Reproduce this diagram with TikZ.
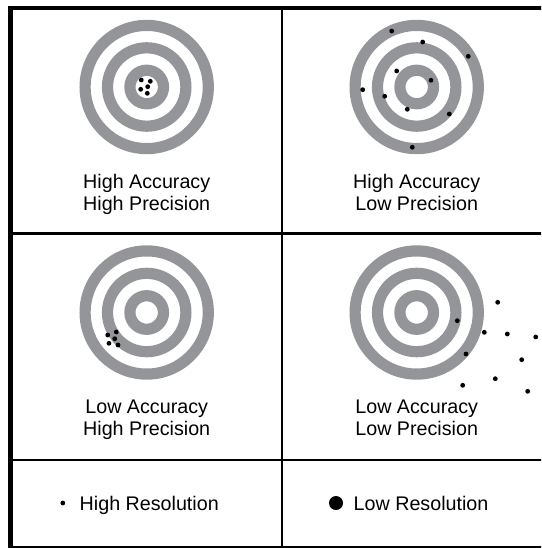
\documentclass[tikz,border=0pt]{standalone}
\usepackage{fontspec}
\setmainfont{Liberation Sans}
\definecolor{ringgray}{RGB}{147,149,152}
\begin{document}
\begin{tikzpicture}[x=1pt,y=-1pt,
  ring/.style={draw=ringgray,line width=11.2pt},
  shot/.style={fill=black},
  gridline/.style={draw=black,line cap=rect},
  lbl/.style={font=\fontsize{19.7}{22}\selectfont,inner sep=0pt,anchor=base},
  legend/.style={font=\fontsize{19.7}{22}\selectfont,inner sep=0pt,anchor=base west},
  pics/bullseye/.style={code={
    \foreach \r in {16.8,39.2,61.6} \draw[ring] (0,0) circle[radius=\r pt];
  }}]
\useasboundingbox (0,0) rectangle (541,548);
\clip (0,0) rectangle (541,548);
% frame
\draw[gridline,line width=4.5pt] (10.7,560) -- (10.7,7.9) -- (560,7.9);
\draw[gridline,line width=2.7pt] (282,7.9) -- (282,560);
\draw[gridline,line width=2.7pt] (10.7,233.5) -- (560,233.5);
\draw[gridline,line width=2.5pt] (10.7,460) -- (560,460);
\draw[gridline,line width=2pt] (10.7,547.2) -- (560,547.2);
% targets
\pic at (146.7,87) {bullseye};
\pic at (416.7,87) {bullseye};
\pic at (146.7,312.5) {bullseye};
\pic at (416.7,312.5) {bullseye};
% shots: high accuracy high precision
\foreach \p in {(141.3,80),(150.3,81.3),(140.7,89.3),(147.7,86.7),(147.3,93.3)}
  \fill[shot] \p circle[radius=2.4pt];
% high accuracy low precision
\foreach \p in {(391.7,31),(422.7,42),(468.3,56.3),(396.7,71),(431,80.3),(362.7,89.7),(384.7,96.3),(407.3,109.3),(449.3,114),(412.3,147.3)}
  \fill[shot] \p circle[radius=2.4pt];
% low accuracy high precision
\foreach \p in {(107.7,335),(116.3,332),(114.7,338.7),(109,343.3),(118,345)}
  \fill[shot] \p circle[radius=2.4pt];
% low accuracy low precision
\foreach \p in {(497.7,302.3),(457.3,320.7),(484.3,332.3),(507.3,334),(535.7,337),(466,354),(521.7,359.7),(495.3,378.7),(462.7,385.3),(527.7,391.3)}
  \fill[shot] \p circle[radius=2.4pt];
% labels
\node[lbl] (l1a) at (146.7,188.3) {High Accuracy};
\node[lbl] (l1b) at (146.7,210.3) {High Precision};
\node[lbl] (l2a) at (416.7,188.3) {High Accuracy};
\node[lbl] (l2b) at (416.7,210.3) {Low Precision};
\node[lbl] (l3a) at (146.7,413.8) {Low Accuracy};
\node[lbl] (l3b) at (146.7,435.8) {High Precision};
\node[lbl] (l4a) at (416.7,413.8) {Low Accuracy};
\node[lbl] (l4b) at (416.7,435.8) {Low Precision};
% legend
\fill[shot] (62.8,503) circle[radius=2.4pt];
\node[legend] (hr) at (79.5,510) {High Resolution};
\fill[shot] (336,503) circle[radius=7pt];
\node[legend] (lr) at (353.5,510) {Low Resolution};
\end{tikzpicture}
\end{document}
